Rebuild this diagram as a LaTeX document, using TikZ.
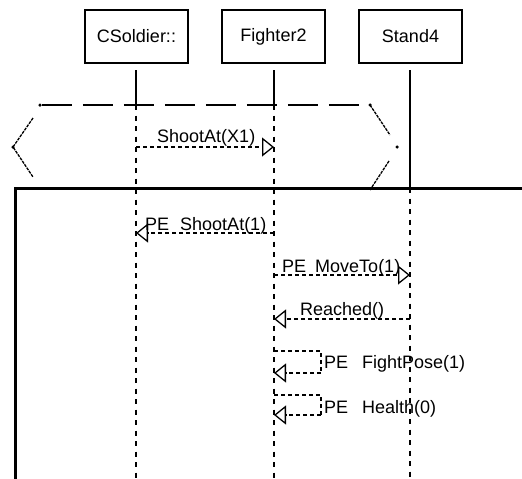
\documentclass[tikz,border=0pt]{standalone}
\usepackage{fontspec}
\setmainfont{Liberation Sans}
\usetikzlibrary{arrows.meta}
\begin{document}
\begin{tikzpicture}[x=1pt,y=-1pt,
  obj/.style={draw, line width=1.2pt, minimum width=103pt, minimum height=53pt, inner sep=0pt, font=\fontsize{18}{20}\selectfont},
  lbl/.style={font=\fontsize{18}{20}\selectfont, inner sep=0pt, anchor=base west},
  life/.style={line width=1.3pt},
  lifed/.style={line width=1.6pt, dash pattern=on 5pt off 5.5pt},
  msgline/.style={line width=1.2pt, dash pattern=on 4pt off 3pt},
  msg/.style={msgline, -{Triangle[open, length=12pt, width=19pt, line width=1.3pt]}},
  frag/.style={line width=1.3pt, dash pattern=on 30pt off 11pt},
  fragd/.style={line width=1.3pt, dash pattern=on 3pt off 1pt},
  cdot/.style={circle, fill, inner sep=0pt, minimum size=3.5pt}
]
\useasboundingbox (0,0) rectangle (522,479);

% objects
\node[obj] (cs) at (136.5,36.5) {CSoldier::};
\node[obj] (fi) at (273.5,36.5) {Fighter2};
\node[obj] (st) at (410.5,36.5) {Stand4};

% lifeline coordinates
\coordinate (csA) at (136,70);  \coordinate (csB) at (136,105); \coordinate (csE) at (136,479);
\coordinate (fiA) at (274,70);  \coordinate (fiB) at (274,105); \coordinate (fiE) at (274,479);
\coordinate (stA) at (410,70);  \coordinate (stB) at (410,188); \coordinate (stE) at (410,479);

\draw[life] (csA) -- (csB);
\draw[lifed] (csB) -- (csE);
\draw[life] (fiA) -- (fiB);
\draw[lifed] (fiB) -- (fiE);
\draw[life] (stA) -- (stB);
\draw[lifed] (stB) -- (stE);

% fragment (hexagon-like)
\node[cdot] (h1) at (40,105) {};
\node[cdot] (h2) at (370,105) {};
\node[cdot] (h3) at (13,147) {};
\node[cdot] (h4) at (397,147) {};
\coordinate (l1) at (33,118);
\coordinate (l2) at (33,177);
\coordinate (r1) at (390,135);
\coordinate (r2) at (389,161);
\coordinate (r3) at (370,190);
\draw[frag] (h1) -- (h2);
\draw[fragd] (l1) -- (h3.center) -- (l2);
\draw[fragd] (h2.center) -- (r1);
\draw[fragd] (r2) -- (r3);

% frame
\coordinate (fr1) at (15,479);
\coordinate (fr2) at (15,188);
\coordinate (fr3) at (522,188);
\draw[line width=3pt] (fr1) -- (fr2) -- (fr3);

% messages
\coordinate (m1a) at (136,147); \coordinate (m1b) at (274,147);
\draw[msg] (m1a) -- (m1b);
\node[lbl] (t1) at (157,142) {ShootAt(X1)};

\coordinate (m2a) at (274,233); \coordinate (m2b) at (136,233);
\draw[msg] (m2a) -- (m2b);
\node[lbl] (t2) at (145,230) {PE\hspace{11pt}ShootAt(1)};

\coordinate (m3a) at (274,275); \coordinate (m3b) at (410,275);
\draw[msg] (m3a) -- (m3b);
\node[lbl] (t3) at (282,272) {PE\hspace{9pt}MoveTo(1)};

\coordinate (m4a) at (410,319); \coordinate (m4b) at (274,319);
\draw[msg] (m4a) -- (m4b);
\node[lbl] (t4) at (300,315) {Reached()};

\coordinate (m5a) at (274,351); \coordinate (m5b) at (321,351);
\coordinate (m5c) at (321,373); \coordinate (m5d) at (274,373);
\draw[msgline] (m5a) -- (m5b) -- (m5c);
\draw[msg] (m5c) -- (m5d);
\node[lbl] (t5) at (324,368) {PE\hspace{14pt}FightPose(1)};

\coordinate (m6a) at (274,395); \coordinate (m6b) at (321,395);
\coordinate (m6c) at (321,415); \coordinate (m6d) at (274,415);
\draw[msgline] (m6a) -- (m6b) -- (m6c);
\draw[msg] (m6c) -- (m6d);
\node[lbl] (t6) at (324,413) {PE\hspace{14pt}Health(0)};
\end{tikzpicture}
\end{document}
